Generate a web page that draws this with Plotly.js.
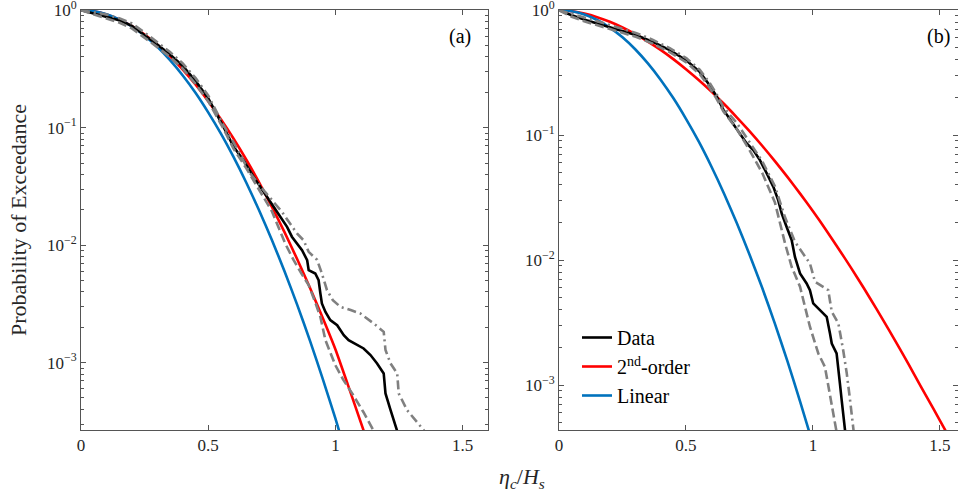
<!DOCTYPE html>
<html><head><meta charset="utf-8">
<script src="https://cdn.plot.ly/plotly-3.0.1.min.js"></script>
<style>html,body{margin:0;padding:0;background:#fff}#chart{width:958px;height:495px}</style>
</head><body><div id="chart"></div>
<script>
// ---------- Linear (Rayleigh) theory, same in both panels ----------
const xLinear = [0,0.05,0.1,0.15,0.2,0.25,0.3,0.35,0.4,0.45,0.5,0.55,0.6,0.65,0.7,0.75,0.8,0.85,0.9,0.95,1.0,1.05];
const pLinear = [1,0.98,0.923,0.835,0.726,0.607,0.487,0.375,0.278,0.198,0.135,0.089,0.0561,0.034,0.0198,0.0111,0.006,0.0031,0.00154,0.00073,0.000335,0.000147];

// ---------- Panel (a) ----------
const xSecondA = [0,0.05,0.1,0.15,0.2,0.25,0.3,0.35,0.4,0.45,0.5,0.55,0.6,0.65,0.7,0.75,0.8,0.85,0.9,0.95,1.0,1.05,1.1,1.15];
const pSecondA = [1,0.978,0.92,0.835,0.732,0.621,0.509,0.405,0.312,0.233,0.168,0.118,0.0805,0.0533,0.0342,0.0213,0.0129,0.00758,0.00434,0.00241,0.0013,0.00064,0.00031,0.00015];

const xDataA = [0,0.05,0.1,0.15,0.2,0.25,0.3,0.35,0.4,0.45,0.5,0.56,0.6,0.639,0.678,0.731,0.783,0.81,0.829,0.849,0.869,0.889,0.895,0.921,0.934,0.941,0.947,0.961,0.98,1.007,1.033,1.052,1.085,1.111,1.138,1.164,1.19,1.197,1.217,1.243,1.26];
const pDataA = [1,0.94,0.885,0.82,0.735,0.615,0.51,0.42,0.335,0.25,0.178,0.1016,0.0687,0.0529,0.0382,0.0258,0.0174,0.0143,0.0118,0.0103,0.00906,0.00745,0.00612,0.00574,0.00504,0.00388,0.00319,0.0027,0.0023,0.00208,0.00171,0.00155,0.00141,0.00132,0.00116,0.000984,0.000809,0.000547,0.000394,0.000265,0.0002];

const xDashA = [0,0.05,0.1,0.15,0.2,0.25,0.3,0.35,0.4,0.45,0.5,0.56,0.6,0.65,0.7,0.75,0.803,0.836,0.865,0.895,0.92,0.941,0.961,0.98,1.0,1.03,1.066,1.11,1.151,1.17];
const pDashA = [1,0.92,0.85,0.785,0.70,0.585,0.485,0.40,0.318,0.236,0.168,0.098,0.066,0.045,0.03,0.0195,0.0103,0.00745,0.0058,0.00457,0.0033,0.00245,0.00155,0.0012,0.00095,0.00072,0.000547,0.00038,0.000265,0.00022];

const xDashDotA = [0,0.05,0.1,0.15,0.2,0.25,0.3,0.35,0.4,0.45,0.5,0.56,0.6,0.665,0.72,0.79,0.849,0.875,0.895,0.928,0.947,0.967,0.99,1.02,1.06,1.098,1.151,1.19,1.197,1.217,1.243,1.249,1.282,1.348,1.36];
const pDashDotA = [1,0.96,0.92,0.855,0.77,0.645,0.535,0.44,0.352,0.265,0.188,0.105,0.075,0.0408,0.029,0.0192,0.01257,0.011,0.00877,0.0075,0.00574,0.00414,0.0034,0.00298,0.0028,0.00262,0.00215,0.00183,0.00128,0.000984,0.000809,0.000547,0.000394,0.000265,0.00024];

// ---------- Panel (b) ----------
const xSecondB = [0,0.05,0.1,0.15,0.2,0.25,0.3,0.35,0.4,0.45,0.5,0.55,0.6,0.65,0.7,0.75,0.8,0.85,0.9,0.95,1.0,1.05,1.1,1.15,1.2,1.25,1.3,1.35,1.4,1.45,1.5,1.55];
const pSecondB = [1,0.982,0.939,0.879,0.807,0.727,0.644,0.561,0.481,0.406,0.337,0.276,0.223,0.1774,0.139,0.1078,0.0823,0.062,0.0461,0.0339,0.0246,0.0176,0.0124,0.00867,0.00598,0.00407,0.00274,0.00183,0.0012,0.00079,0.00052,0.00034];

const xDataB = [0,0.05,0.108,0.2,0.305,0.37,0.436,0.501,0.554,0.593,0.62,0.647,0.686,0.713,0.739,0.765,0.791,0.818,0.844,0.863,0.877,0.896,0.916,0.929,0.949,0.975,0.988,1.001,1.021,1.054,1.067,1.074,1.093,1.1,1.106,1.113,1.126,1.135];
const pDataB = [1,0.91,0.832,0.736,0.631,0.558,0.479,0.398,0.321,0.251,0.205,0.16,0.124,0.103,0.0858,0.0759,0.0631,0.0494,0.0386,0.0302,0.0236,0.0185,0.0145,0.0106,0.00782,0.00651,0.00575,0.0045,0.0041,0.00352,0.00259,0.00215,0.00179,0.0014,0.00103,0.000759,0.000434,0.0003];

const xDashB = [0,0.05,0.108,0.2,0.305,0.37,0.436,0.501,0.554,0.593,0.62,0.647,0.7,0.75,0.8,0.85,0.89,0.916,0.949,0.988,1.021,1.047,1.067,1.093,1.1];
const pDashB = [1,0.885,0.805,0.71,0.61,0.538,0.462,0.383,0.308,0.24,0.196,0.155,0.112,0.076,0.05,0.029,0.0136,0.00885,0.00612,0.00293,0.00179,0.0014,0.000858,0.000434,0.00035];

const xDashDotB = [0,0.05,0.108,0.2,0.305,0.37,0.436,0.501,0.554,0.593,0.62,0.647,0.7,0.75,0.8,0.85,0.89,0.929,0.988,1.008,1.06,1.074,1.1,1.119,1.133,1.146,1.159,1.165];
const pDashDotB = [1,0.935,0.86,0.762,0.654,0.578,0.497,0.413,0.334,0.262,0.214,0.168,0.125,0.088,0.062,0.039,0.022,0.014,0.0094,0.00671,0.00575,0.00386,0.00311,0.0019,0.00124,0.000759,0.000434,0.00035];

// ---------- Axis ticks / labels ----------
const xTickVals = [0,0.5,1,1.5];
const xTickText = ['0','0.5','1','1.5'];
const yTickVals = [1,0.1,0.01,0.001];
const yTickText = ['10<sup>0</sup>','10<sup>−1</sup>','10<sup>−2</sup>','10<sup>−3</sup>'];
const legendNames = ['Data','2<sup>nd</sup>-order','Linear'];
const panelLabels = ['(a)','(b)'];

const yMinorVals = [];
for (let e = -4; e <= -1; e++) for (let m = 2; m <= 9; m++) yMinorVals.push(m * Math.pow(10, e));

const FONT = 'Liberation Serif, Times New Roman, serif';
const AX = '#555555';
const TXT = '#262626';
const GRAY = '#808080';
const LW = 2.6;

function line(x, y, xa, ya, color, dash, name, show, rank) {
  return {x: x, y: y, xaxis: xa, yaxis: ya, type: 'scatter', mode: 'lines',
    line: {color: color, width: LW, dash: dash || 'solid'},
    name: name || '', showlegend: !!show, legendrank: rank || 1000, hoverinfo: 'skip'};
}
const DASH = '9px,4px';
const DASHDOT = '9px,4px,2px,4px';

const traces = [
  line(xSecondA, pSecondA, 'x', 'y', '#FF0000'),
  line(xLinear, pLinear, 'x', 'y', '#0072BD'),
  line(xDataA, pDataA, 'x', 'y', '#000000'),
  line(xDashA, pDashA, 'x', 'y', GRAY, DASH),
  line(xDashDotA, pDashDotA, 'x', 'y', GRAY, DASHDOT),
  line(xSecondB, pSecondB, 'x2', 'y2', '#FF0000', null, legendNames[1], true, 2),
  line(xLinear, pLinear, 'x2', 'y2', '#0072BD', null, legendNames[2], true, 3),
  line(xDataB, pDataB, 'x2', 'y2', '#000000', null, legendNames[0], true, 1),
  line(xDashB, pDashB, 'x2', 'y2', GRAY, DASH),
  line(xDashDotB, pDashDotB, 'x2', 'y2', GRAY, DASHDOT)
];
traces.forEach(t => { if (t.line.color === '#FF0000' || t.line.color === '#0072BD') { t.line.shape = 'spline'; t.line.smoothing = 0.6; } });

function xAxis(domain, range, anchor) {
  return {domain: domain, range: range, anchor: anchor, showline: true, mirror: 'ticks',
    linecolor: AX, linewidth: 1, ticks: 'inside', ticklen: 5, tickwidth: 1, tickcolor: AX,
    tickmode: 'array', tickvals: xTickVals, ticktext: xTickText, ticklabeloverflow: 'allow',
    tickfont: {family: FONT, size: 17, color: TXT}, showgrid: false, zeroline: false, fixedrange: true};
}
function yAxis(domain, range, anchor) {
  return {domain: domain, range: range, anchor: anchor, type: 'log', showline: true, mirror: 'ticks',
    linecolor: AX, linewidth: 1, ticks: 'inside', ticklen: 5, tickwidth: 1, tickcolor: AX,
    tickmode: 'array', tickvals: yTickVals, ticktext: yTickText, ticklabeloverflow: 'allow',
    minor: {tickmode: 'array', tickvals: yMinorVals, ticks: 'inside', ticklen: 3, tickwidth: 1, tickcolor: AX, showgrid: false},
    tickfont: {family: FONT, size: 17, color: TXT}, showgrid: false, zeroline: false, fixedrange: true};
}

const W = 958, H = 495;
const yDom = [(H - 430) / H, (H - 10) / H];
const layout = {
  width: W, height: H, margin: {l: 0, r: 0, t: 0, b: 0},
  paper_bgcolor: '#ffffff', plot_bgcolor: '#ffffff',
  font: {family: FONT, color: TXT},
  xaxis: xAxis([81 / W, 488 / W], [0, 1.6], 'y'),
  yaxis: yAxis(yDom, [Math.log10(2.67e-4), 0.0015], 'x'),
  xaxis2: xAxis([559 / W, 1], [0, 1.571], 'y2'),
  yaxis2: yAxis(yDom, [Math.log10(4.37e-4), 0.0015], 'x2'),
  showlegend: true,
  legend: {x: 577 / W, y: (H - 318) / H, xanchor: 'left', yanchor: 'top', bgcolor: 'rgba(0,0,0,0)',
    borderwidth: 0, font: {family: FONT, size: 20, color: '#000000'}, itemwidth: 30, tracegroupgap: 0},
  annotations: [
    {text: panelLabels[0], xref: 'paper', yref: 'paper', x: 460 / W, y: (H - 36) / H, showarrow: false,
      xanchor: 'center', yanchor: 'middle', font: {family: FONT, size: 20, color: '#000000'}},
    {text: panelLabels[1], xref: 'paper', yref: 'paper', x: 938 / W, y: (H - 36) / H, showarrow: false,
      xanchor: 'center', yanchor: 'middle', font: {family: FONT, size: 20, color: '#000000'}},
    {text: 'Probability of Exceedance', xref: 'paper', yref: 'paper', x: 18 / W, y: (H - 220) / H,
      textangle: -90, showarrow: false, xanchor: 'center', yanchor: 'middle',
      font: {family: FONT, size: 22, color: TXT}},
    {text: '<i>η<sub>c</sub></i>/<i>H<sub>s</sub></i>', xref: 'paper', yref: 'paper', x: 522 / W, y: (H - 478) / H,
      showarrow: false, xanchor: 'center', yanchor: 'middle', font: {family: FONT, size: 22, color: TXT}}
  ]
};

Plotly.newPlot('chart', traces, layout, {displayModeBar: false, staticPlot: true});
</script>
</body></html>
